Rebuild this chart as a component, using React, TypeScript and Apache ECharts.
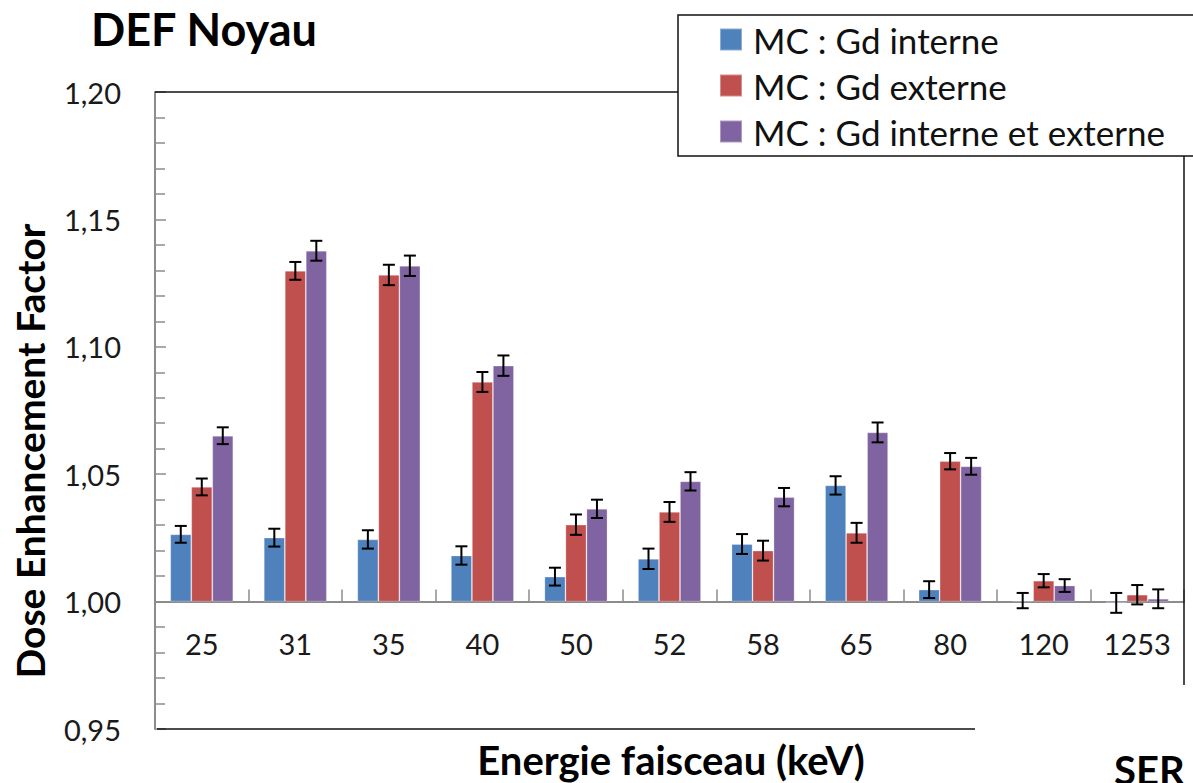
import React, { useEffect, useRef } from "react";
import * as echarts from "echarts";

const categories = ["25", "31", "35", "40", "50", "52", "58", "65", "80", "120", "1253"];
const seriesNames = ["MC : Gd interne", "MC : Gd externe", "MC : Gd interne et externe"];
const interne = [1.0264, 1.0251, 1.0244, 1.0181, 1.0098, 1.0168, 1.0226, 1.0456, 1.0047, 1.0004, 0.9995];
const externe = [1.045, 1.1298, 1.1282, 1.0862, 1.0302, 1.0352, 1.02, 1.027, 1.0551, 1.0082, 1.0027];
const both = [1.0651, 1.1377, 1.1318, 1.0926, 1.0364, 1.0472, 1.041, 1.0664, 1.0531, 1.0063, 1.0011];
const interneErr = [0.0033, 0.0035, 0.0036, 0.0036, 0.0035, 0.004, 0.0039, 0.0036, 0.0033, 0.003, 0.0039];
const externeErr = [0.0033, 0.0035, 0.004, 0.0039, 0.004, 0.0039, 0.0039, 0.0039, 0.0032, 0.0026, 0.0038];
const bothErr = [0.0033, 0.0039, 0.004, 0.004, 0.0036, 0.0036, 0.0036, 0.0039, 0.0033, 0.0025, 0.0037];
const yTicks = [0.95, 1.0, 1.05, 1.1, 1.15, 1.2];

const colors = ["#4F81BD", "#C0504D", "#8064A2"];
const BASE = 1.0;
const BAR_W = 21;
const W = 1193;
const H = 783;
const GRID = { left: 155, right: 9, top: 92, bottom: 54 };

export default function App() {
  const ref = useRef<HTMLDivElement>(null);
  useEffect(() => {
    if (!ref.current) return;
    const chart = echarts.init(ref.current, null, { renderer: "svg" });
    const values = [interne, externe, both];
    const errs = [interneErr, externeErr, bothErr];
    const offsets = [-BAR_W, 0, BAR_W];
    const yMin = yTicks[0];
    const yMax = yTicks[yTicks.length - 1];
    const gridH = H - GRID.top - GRID.bottom;
    // move the category axis up so it crosses the value axis at 1,00
    const xAxisOffset = -(gridH * (BASE - yMin)) / (yMax - yMin);

    const barSeries = values.map((vals, i) => ({
      name: seriesNames[i],
      type: "bar",
      xAxisIndex: 0,
      yAxisIndex: 0,
      barWidth: BAR_W,
      barGap: "0%",
      itemStyle: { color: colors[i], borderColor: "rgba(255,255,255,0.35)", borderWidth: 0.8 },
      data: vals.map((v) => +(v - BASE).toFixed(5)),
    }));

    const errSeries = values.map((vals, i) => ({
      type: "custom",
      xAxisIndex: 0,
      yAxisIndex: 0,
      z: 10,
      silent: true,
      data: vals.map((v, k) => [k, +(v - BASE).toFixed(5), errs[i][k]]),
      renderItem: (params: any, api: any) => {
        const xi = api.value(0);
        const v = api.value(1);
        const e = api.value(2);
        const c = api.coord([xi, v]);
        const hi = api.coord([xi, v + e]);
        const lo = api.coord([xi, v - e]);
        const x = c[0] + offsets[i];
        const cap = 6;
        const st = { stroke: "#000", lineWidth: 2 };
        return {
          type: "group",
          children: [
            { type: "line", shape: { x1: x, y1: hi[1], x2: x, y2: lo[1] }, style: st },
            { type: "line", shape: { x1: x - cap, y1: hi[1], x2: x + cap, y2: hi[1] }, style: st },
            { type: "line", shape: { x1: x - cap, y1: lo[1], x2: x + cap, y2: lo[1] }, style: st },
          ],
        };
      },
    }));

    const option: any = {
      animation: false,
      backgroundColor: "#fff",
      textStyle: { fontFamily: "Lato" },
      grid: { ...GRID, containLabel: false },
      legend: {
        orient: "vertical",
        left: 719,
        top: 22,
        padding: 0,
        itemWidth: 22,
        itemHeight: 22,
        itemGap: 11,
        icon: "rect",
        data: seriesNames,
        textStyle: { fontFamily: "Lato", fontSize: 35, color: "#111", lineHeight: 35, padding: [0, 0, 0, 6] },
      },
      xAxis: [
        {
          type: "category",
          data: categories,
          position: "bottom",
          offset: xAxisOffset,
          axisLine: { show: true, onZero: false, lineStyle: { color: "#8c8c8c", width: 2 } },
          axisTick: { show: true, inside: true, length: 12, interval: 0, lineStyle: { color: "#8c8c8c", width: 1.5 } },
          axisLabel: { show: true, interval: 0, margin: 27, fontFamily: "Lato", fontSize: 29, color: "#1a1a1a" },
          splitLine: { show: false },
        },
        {
          type: "category",
          data: categories,
          position: "bottom",
          offset: xAxisOffset,
          axisLine: { show: false, onZero: false },
          axisTick: { show: true, inside: true, alignWithLabel: true, length: 7, interval: 0, lineStyle: { color: "#9a9a9a", width: 1.5 } },
          axisLabel: { show: false },
          splitLine: { show: false },
        },
      ],
      yAxis: {
        type: "value",
        min: yMin - BASE,
        max: yMax - BASE,
        interval: 0.05,
        axisLine: { show: true, onZero: false, lineStyle: { color: "#8c8c8c", width: 2 } },
        axisTick: { show: true, inside: true, length: 11, lineStyle: { color: "#8c8c8c", width: 1.5 } },
        minorTick: { show: true, splitNumber: 5, length: 10, lineStyle: { color: "#8c8c8c", width: 1.5 } },
        splitLine: { show: false },
        axisLabel: {
          margin: 34,
          fontFamily: "Lato",
          fontSize: 29,
          color: "#1a1a1a",
          formatter: (v: number) => (v + BASE).toFixed(2).replace(".", ","),
        },
      },
      graphic: [
        { type: "line", z: 100, shape: { x1: 155, y1: 92, x2: 678, y2: 92 }, style: { stroke: "#111", lineWidth: 1.5 } },
        { type: "line", z: 100, shape: { x1: 1184, y1: 156, x2: 1184, y2: 685 }, style: { stroke: "#111", lineWidth: 1.5 } },
        { type: "line", z: 100, shape: { x1: 157, y1: 729, x2: 975, y2: 729 }, style: { stroke: "#111", lineWidth: 1.5 } },
        { type: "rect", z: -1, shape: { x: 678, y: 15, width: 530, height: 141 }, style: { fill: "#fff", stroke: "#111", lineWidth: 1.5 } },
        {
          type: "text",
          left: 91,
          top: 6,
          style: { text: "DEF Noyau", fontFamily: "Lato", fontWeight: "bold", fontSize: 45, fill: "#000" },
        },
        {
          type: "text",
          x: 30,
          y: 451,
          rotation: Math.PI / 2,
          style: {
            text: "Dose Enhancement Factor",
            fontFamily: "Lato",
            fontWeight: "bold",
            fontSize: 39,
            fill: "#000",
            textAlign: "center",
            textVerticalAlign: "middle",
          },
        },
        {
          type: "text",
          x: 671,
          y: 760,
          style: {
            text: "Energie faisceau (keV)",
            fontFamily: "Lato",
            fontWeight: "bold",
            fontSize: 40,
            fill: "#000",
            textAlign: "center",
            textVerticalAlign: "middle",
          },
        },
        {
          type: "text",
          x: 1114,
          y: 770,
          style: {
            text: "SER",
            fontFamily: "Lato",
            fontWeight: "bold",
            fontSize: 40,
            fill: "#000",
            textAlign: "left",
            textVerticalAlign: "middle",
          },
        },
      ],
      series: [...barSeries, ...errSeries],
    };
    chart.setOption(option);
    return () => chart.dispose();
  }, []);
  return <div ref={ref} style={{ position: "absolute", left: 0, top: 0, width: W, height: H }} />;
}
